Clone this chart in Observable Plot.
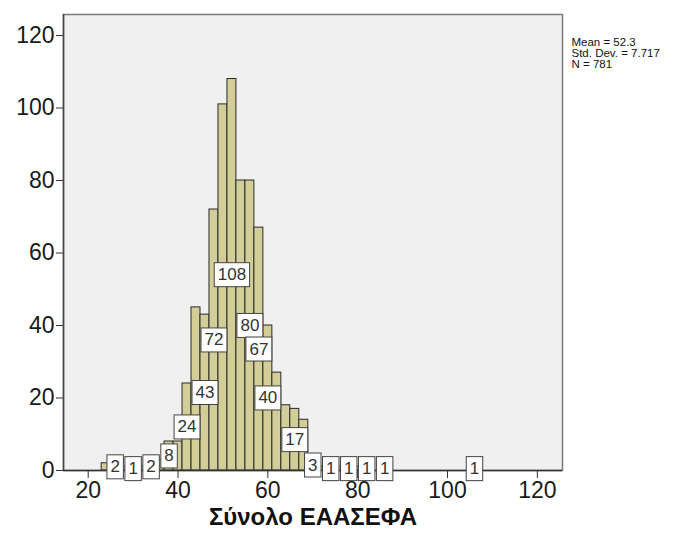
<!DOCTYPE html>
<html><head><meta charset="utf-8">
<script src="https://cdn.jsdelivr.net/npm/d3@7"></script>
<script src="https://cdn.jsdelivr.net/npm/@observablehq/plot@0.6"></script>
<style>
body{margin:0;background:#fff;}
#chart svg{display:block;}
</style>
</head><body><div id="chart"></div>
<script>
// bins of width 2 (left edges) and their counts
const binStart = [23,25,27,29,31,33,35,37,39,41,43,45,47,49,51,53,55,57,59,61,63,65,67,69,71,73,75,77,79,81,83,85,87,89,91,93,95,97,99,101,103,105];
const binWidth = 2;
const counts   = [2,2,1,1,1,2,3,8,8,24,45,43,72,101,108,80,80,67,40,27,18,17,14,3,1,1,1,1,1,1,0,1,0,0,0,0,0,0,0,0,0,1];
// bins whose data label is shown (others hidden by overlap)
const labelledBins = [25,29,33,37,41,45,47,51,55,57,59,65,69,73,77,81,85,105];
const xTicks = [20,40,60,80,100,120];
const yTicks = [0,20,40,60,80,100,120];
const xDomain = [14.5,125.6];
const yDomain = [0,125.8];
const xTitle = "Σύνολο ΕΑΑΣΕΦΑ";
const stats = ["Mean = 52.3","Std. Dev. = 7.717","N = 781"];

const bins = binStart.map((s,i)=>({x1:s, x2:s+binWidth, n:counts[i]})).filter(d=>d.n>0);
const labels = labelledBins.map(s=>({x:s+binWidth/2, n:counts[binStart.indexOf(s)]}));

const chart = Plot.plot({
  width: 677, height: 534,
  marginLeft: 63, marginRight: 115, marginTop: 14, marginBottom: 64,
  style: {fontFamily: "'Liberation Sans', Arial, sans-serif", background: "#fff", color: "#1a1a1a", overflow: "visible"},
  x: {domain: xDomain},
  y: {domain: yDomain},
  marks: [
    Plot.frame({fill: "#F0F0F0", stroke: null}),
    Plot.rectY(bins, {x1:"x1", x2:"x2", y:"n", fill:"#D3CE97", stroke:"#2a2a2a", strokeWidth:1, insetLeft:0, insetRight:0}),
    Plot.frame({stroke:"#7a7a7a", strokeWidth:1.5}),
    Plot.ruleY([yTicks[0]], {stroke:"#333", strokeWidth:1.5}),
    Plot.ruleX([xDomain[0]], {stroke:"#444", strokeWidth:1.5}),
    Plot.axisY({ticks: yTicks, tickSize: 7, tickPadding: 2, fontSize: 23, label: null, tickFormat: d=>String(d), stroke:"#333"}),
    Plot.axisX({ticks: xTicks, tickSize: 8, tickPadding: 3, fontSize: 23, label: null, tickFormat: d=>String(d), stroke:"#333"}),
    Plot.text(labels, {x:"x", y: d=>d.n/2, text: d=>String(d.n), fontSize: 17, fill:"#333", className: "barlabel"}),
    Plot.text([xTitle], {frameAnchor:"bottom", dy: 54, text: d=>d, fontWeight:"bold", fontSize: 24, fill:"#111"}),
    Plot.text([stats.join("\n")], {frameAnchor:"top-right", textAnchor:"start", lineAnchor:"top", dx: 9, dy: 24, text: d=>d, fontSize: 11.5, lineHeight: 0.95, fill:"#111"})
  ]
});
document.getElementById("chart").appendChild(chart);

// white boxes behind the bar labels
const padX = 3.5, padY = 2.5;
chart.querySelectorAll(".barlabel text").forEach(t => {
  const b = t.getBBox();
  const r = document.createElementNS("http://www.w3.org/2000/svg","rect");
  r.setAttribute("x", b.x - padX);
  r.setAttribute("y", b.y - padY);
  r.setAttribute("width", b.width + 2*padX);
  r.setAttribute("height", b.height + 2*padY);
  r.setAttribute("fill", "#fff");
  r.setAttribute("stroke", "#444");
  r.setAttribute("stroke-width", "1");
  const tr = t.getAttribute("transform");
  if (tr) r.setAttribute("transform", tr);
  t.parentNode.insertBefore(r, t);
});
</script>
</body></html>
